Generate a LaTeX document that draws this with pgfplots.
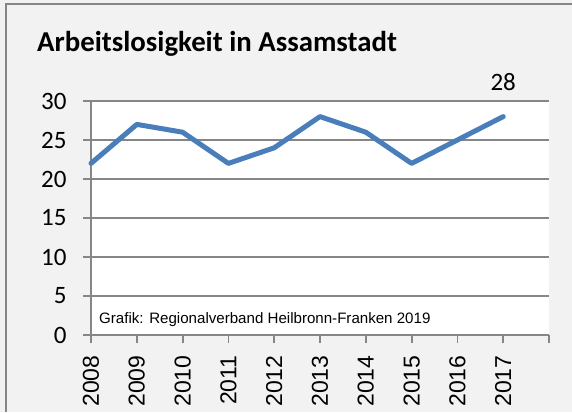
\documentclass[border=0pt]{standalone}
\usepackage{fontspec}
\setmainfont{Carlito}
\newfontfamily\arial{Liberation Sans}
\usepackage{pgfplots}
\pgfplotsset{compat=1.18}
\definecolor{bg}{HTML}{F2F2F2}
\definecolor{gridc}{HTML}{868686}
\definecolor{linec}{HTML}{4A7EBB}
\begin{document}
\begin{tikzpicture}[x=1pt,y=1pt]
\useasboundingbox (0,0) rectangle (572,412);
\fill[bg] (0,0) rectangle (572,412);
\draw[gridc, line width=2pt] (5.5,0) -- (5.5,407.5) -- (572,407.5);
\node[anchor=base west, font=\bfseries\fontsize{28.8}{33}\selectfont, inner sep=0] at (37,360.3) {Arbeitslosigkeit in Assamstadt};
\begin{axis}[
  at={(91pt,77pt)}, anchor=south west, scale only axis,
  width=458pt, height=234pt,
  xmin=2008, xmax=2018, ymin=0, ymax=30,
  xtick={2008,2009,2010,2011,2012,2013,2014,2015,2016,2017,2018},
  xticklabels={2008,2009,2010,2011,2012,2013,2014,2015,2016,2017,{}},
  ytick={0,5,10,15,20,25,30},
  axis x line*=bottom, axis y line*=left,
  axis line style={gridc, line width=1.8pt, -},
  ymajorgrids, grid style={gridc, line width=1.8pt},
  tick align=outside, major tick length=8pt,
  tick style={gridc, line width=1.8pt},
  axis background/.style={fill=white},
  xticklabel shift=9pt,
  xticklabel style={rotate=90, anchor=east, font=\arial\fontsize{23}{27}\selectfont},
  yticklabel style={xshift=-13pt, font=\fontsize{25}{30}\selectfont},
  /pgf/number format/assume math mode=true,
  clip=false,
]
\addplot[linec, line width=5pt, line join=round, line cap=round] coordinates {
  (2008,22) (2009,27) (2010,26) (2011,22) (2012,24)
  (2013,28) (2014,26) (2015,22) (2016,25) (2017,28)
};
\node[anchor=base, yshift=26pt, font=\fontsize{25}{30}\selectfont, inner sep=0] at (axis cs:2017,28) {28};
\node[anchor=base west, font=\arial\fontsize{15.1}{18}\selectfont, inner sep=0] at (rel axis cs:0.0175,0.051) {Grafik: Regionalverband Heilbronn-Franken 2019};
\end{axis}
\end{tikzpicture}
\end{document}
